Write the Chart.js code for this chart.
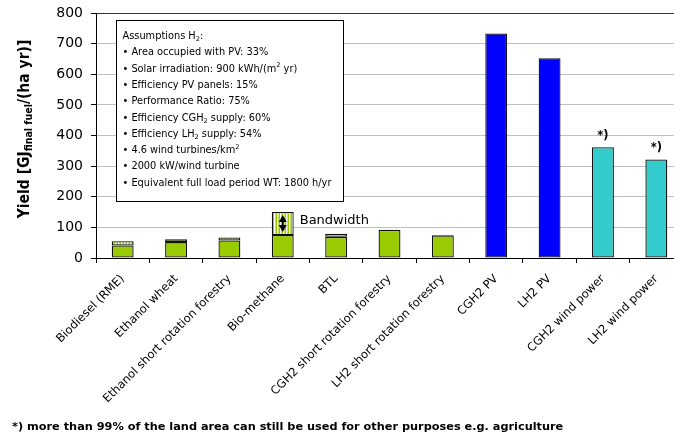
<!DOCTYPE html>
<html>
<head>
<meta charset="utf-8">
<script src="https://cdn.jsdelivr.net/npm/chart.js@4"></script>
<style>
  html, body { margin: 0; padding: 0; background: #fff; overflow: hidden; }
  #wrap { width: 674px; height: 438px; overflow: hidden; position: relative; }
  canvas { display: block; }
</style>
</head>
<body>
<div id="wrap"><canvas id="c" width="690" height="438"></canvas></div>
<script>
// Fuel pathways on the category axis
const categories = [
  'Biodiesel (RME)', 'Ethanol wheat', 'Ethanol short rotation forestry', 'Bio-methane',
  'BTL', 'CGH2 short rotation forestry', 'LH2 short rotation forestry',
  'CGH2 PV', 'LH2 PV', 'CGH2 wind power', 'LH2 wind power'
];
// Lower end of the yield range, GJ final fuel per ha and year
const yieldLow = [41, 52, 57, 75, 69, 92, 74, 733, 652, 362, 322];
// Upper end of the yield range (null where only one value is given)
const yieldHigh = [55, 61, 67, 150, 79, null, null, null, null, null, null];
// Pathway groups: biomass, photovoltaics, wind
const pathwayGroup = ['bio', 'bio', 'bio', 'bio', 'bio', 'bio', 'bio', 'pv', 'pv', 'wind', 'wind'];
// Marks for pathways that leave the land usable for other purposes
const landNote = ['', '', '', '', '', '', '', '', '', '*)', '*)'];
// Value axis ticks
const yTicks = [0, 100, 200, 300, 400, 500, 600, 700, 800];

const groupColor = { bio: '#99cc00', pv: '#0000ff', wind: '#33cccc' };
const bandwidth = yieldHigh.map((h, i) => (h == null ? null : h - yieldLow[i]));

// Assumption lines: runs of [text, mode] where mode is '', 'sub' or 'sup'
const assumptions = [
  [['Assumptions H', ''], ['2', 'sub'], [':', '']],
  [['\u2022 Area occupied with PV: 33%', '']],
  [['\u2022 Solar irradiation: 900 kWh/(m', ''], ['2', 'sup'], [' yr)', '']],
  [['\u2022 Efficiency PV panels: 15%', '']],
  [['\u2022 Performance Ratio: 75%', '']],
  [['\u2022 Efficiency CGH', ''], ['2', 'sub'], [' supply: 60%', '']],
  [['\u2022 Efficiency LH', ''], ['2', 'sub'], [' supply: 54%', '']],
  [['\u2022 4.6 wind turbines/km', ''], ['2', 'sup']],
  [['\u2022 2000 kW/wind turbine', '']],
  [['\u2022 Equivalent full load period WT: 1800 h/yr', '']]
];
const footnote = '*) more than 99% of the land area can still be used for other purposes e.g. agriculture';

const FONT = "'DejaVu Sans', Verdana, sans-serif";
const FONT_COND = "'DejaVu Sans Condensed', 'DejaVu Sans', sans-serif";

// Vertical hatch used for the yield range segment
function stripePattern() {
  const p = document.createElement('canvas');
  p.width = 3; p.height = 4;
  const g = p.getContext('2d');
  g.fillStyle = '#99cc00'; g.fillRect(0, 0, 1, 4);
  g.fillStyle = '#ffffff'; g.fillRect(1, 0, 1, 4);
  g.fillStyle = '#c2e066'; g.fillRect(2, 0, 1, 4);
  return g.createPattern(p, 'repeat');
}

function drawRuns(ctx, runs, x, y, size, weight, family) {
  let cx = x;
  for (const [txt, mode] of runs) {
    const s = mode ? size * 0.68 : size;
    ctx.font = `${weight} ${s}px ${family}`;
    const dy = mode === 'sub' ? size * 0.3 : mode === 'sup' ? -size * 0.38 : 0;
    ctx.fillText(txt, cx, y + dy);
    cx += ctx.measureText(txt).width;
  }
  return cx - x;
}

function runsWidth(ctx, runs, size, weight, family) {
  let w = 0;
  for (const [txt, mode] of runs) {
    const s = mode ? size * 0.68 : size;
    ctx.font = `${weight} ${s}px ${family}`;
    w += ctx.measureText(txt).width;
  }
  return w;
}

const annotations = {
  id: 'annotations',
  afterDraw(chart) {
    const ctx = chart.ctx;
    const y = chart.scales.y;
    const low = chart.getDatasetMeta(0).data;
    ctx.save();
    ctx.fillStyle = '#000';
    ctx.textBaseline = 'middle';

    // Axis title with subscript, rotated
    const title = [['Yield [GJ', ''], ['final fuel', 'sub'], ['/(ha yr)]', '']];
    const tw = runsWidth(ctx, title, 15.5, 'bold', FONT_COND);
    ctx.save();
    ctx.translate(25, 129);
    ctx.rotate(-Math.PI / 2);
    ctx.textAlign = 'left';
    drawRuns(ctx, title, -tw / 2, 0, 15.5, 'bold', FONT_COND);
    ctx.restore();

    // Assumptions box
    const bx = 116.5, by = 20.5, bw = 227, bh = 181;
    ctx.fillStyle = '#fff';
    ctx.fillRect(bx, by, bw, bh);
    ctx.strokeStyle = '#000';
    ctx.lineWidth = 1;
    ctx.strokeRect(bx, by, bw, bh);
    ctx.fillStyle = '#000';
    ctx.textAlign = 'left';
    assumptions.forEach((runs, i) => {
      drawRuns(ctx, runs, bx + 6, by + 16 + i * 16.3, 9.8, 'normal', FONT);
    });

    // Range arrow and label on the widest range
    let wi = 0;
    bandwidth.forEach((b, i) => { if (b != null && b > (bandwidth[wi] || 0)) wi = i; });
    const bar = low[wi];
    const yTop = y.getPixelForValue(yieldHigh[wi]) + 3;
    const yBot = y.getPixelForValue(yieldLow[wi]) - 3;
    const ax = bar.x;
    ctx.strokeStyle = '#000';
    ctx.lineWidth = 2;
    ctx.beginPath();
    ctx.moveTo(ax, yTop + 5);
    ctx.lineTo(ax, yBot - 5);
    ctx.stroke();
    ctx.beginPath();
    ctx.moveTo(ax, yTop); ctx.lineTo(ax - 4, yTop + 7); ctx.lineTo(ax + 4, yTop + 7); ctx.closePath();
    ctx.moveTo(ax, yBot); ctx.lineTo(ax - 4, yBot - 7); ctx.lineTo(ax + 4, yBot - 7); ctx.closePath();
    ctx.fill();
    ctx.font = `13px ${FONT}`;
    const midV = (yieldHigh[wi] + yieldLow[wi]) / 2;
    ctx.fillText('Bandwidth', bar.x + bar.width / 2 + 6, y.getPixelForValue(midV) - 3);

    // Land-use marks above the wind bars
    ctx.textAlign = 'center';
    ctx.font = `bold 11.5px ${FONT}`;
    landNote.forEach((m, i) => {
      if (!m) return;
      ctx.fillText(m, low[i].x, y.getPixelForValue(yieldLow[i]) - 11);
    });

    // Footnote
    ctx.textAlign = 'left';
    ctx.font = `bold 11.3px ${FONT}`;
    ctx.fillText(footnote, 12, 427);
    ctx.restore();
  }
};

new Chart(document.getElementById('c'), {
  type: 'bar',
  data: {
    labels: categories,
    datasets: [
      {
        data: yieldLow,
        backgroundColor: pathwayGroup.map(g => groupColor[g]),
        borderColor: '#111',
        borderWidth: 1.3,
        borderSkipped: false,
        barPercentage: 0.41,
        categoryPercentage: 1
      },
      {
        data: bandwidth,
        backgroundColor: stripePattern(),
        borderColor: '#111',
        borderWidth: 1.3,
        borderSkipped: false,
        barPercentage: 0.41,
        categoryPercentage: 1
      }
    ]
  },
  options: {
    responsive: false,
    animation: false,
    layout: { padding: { top: 13, right: 7, left: 0, bottom: 0 } },
    plugins: { legend: { display: false }, tooltip: { enabled: false } },
    scales: {
      x: {
        stacked: true,
        grid: { drawOnChartArea: false, offset: true, tickLength: 5, tickColor: '#000', color: '#000' },
        border: { color: '#000', width: 1 },
        ticks: {
          minRotation: 45, maxRotation: 45, autoSkip: false, padding: 9,
          color: '#000', font: { family: FONT, size: 11.6 }
        },
        afterFit(s) { s.height = 180; s.paddingLeft = 0; s.paddingRight = 0; }
      },
      y: {
        stacked: true,
        min: yTicks[0], max: yTicks[yTicks.length - 1],
        afterBuildTicks(s) { s.ticks = yTicks.map(v => ({ value: v })); },
        grid: {
          color: c => (c.tick && c.tick.value === 800 ? '#333' : '#c0c0c0'),
          tickLength: 5, tickColor: '#000', lineWidth: 1
        },
        border: { color: '#000', width: 1 },
        ticks: { padding: 8, color: '#000', font: { family: FONT, size: 14 } },
        afterFit(s) { s.width = 96; s.paddingTop = 0; s.paddingBottom = 0; }
      }
    }
  },
  plugins: [annotations]
});
</script>
</body>
</html>
